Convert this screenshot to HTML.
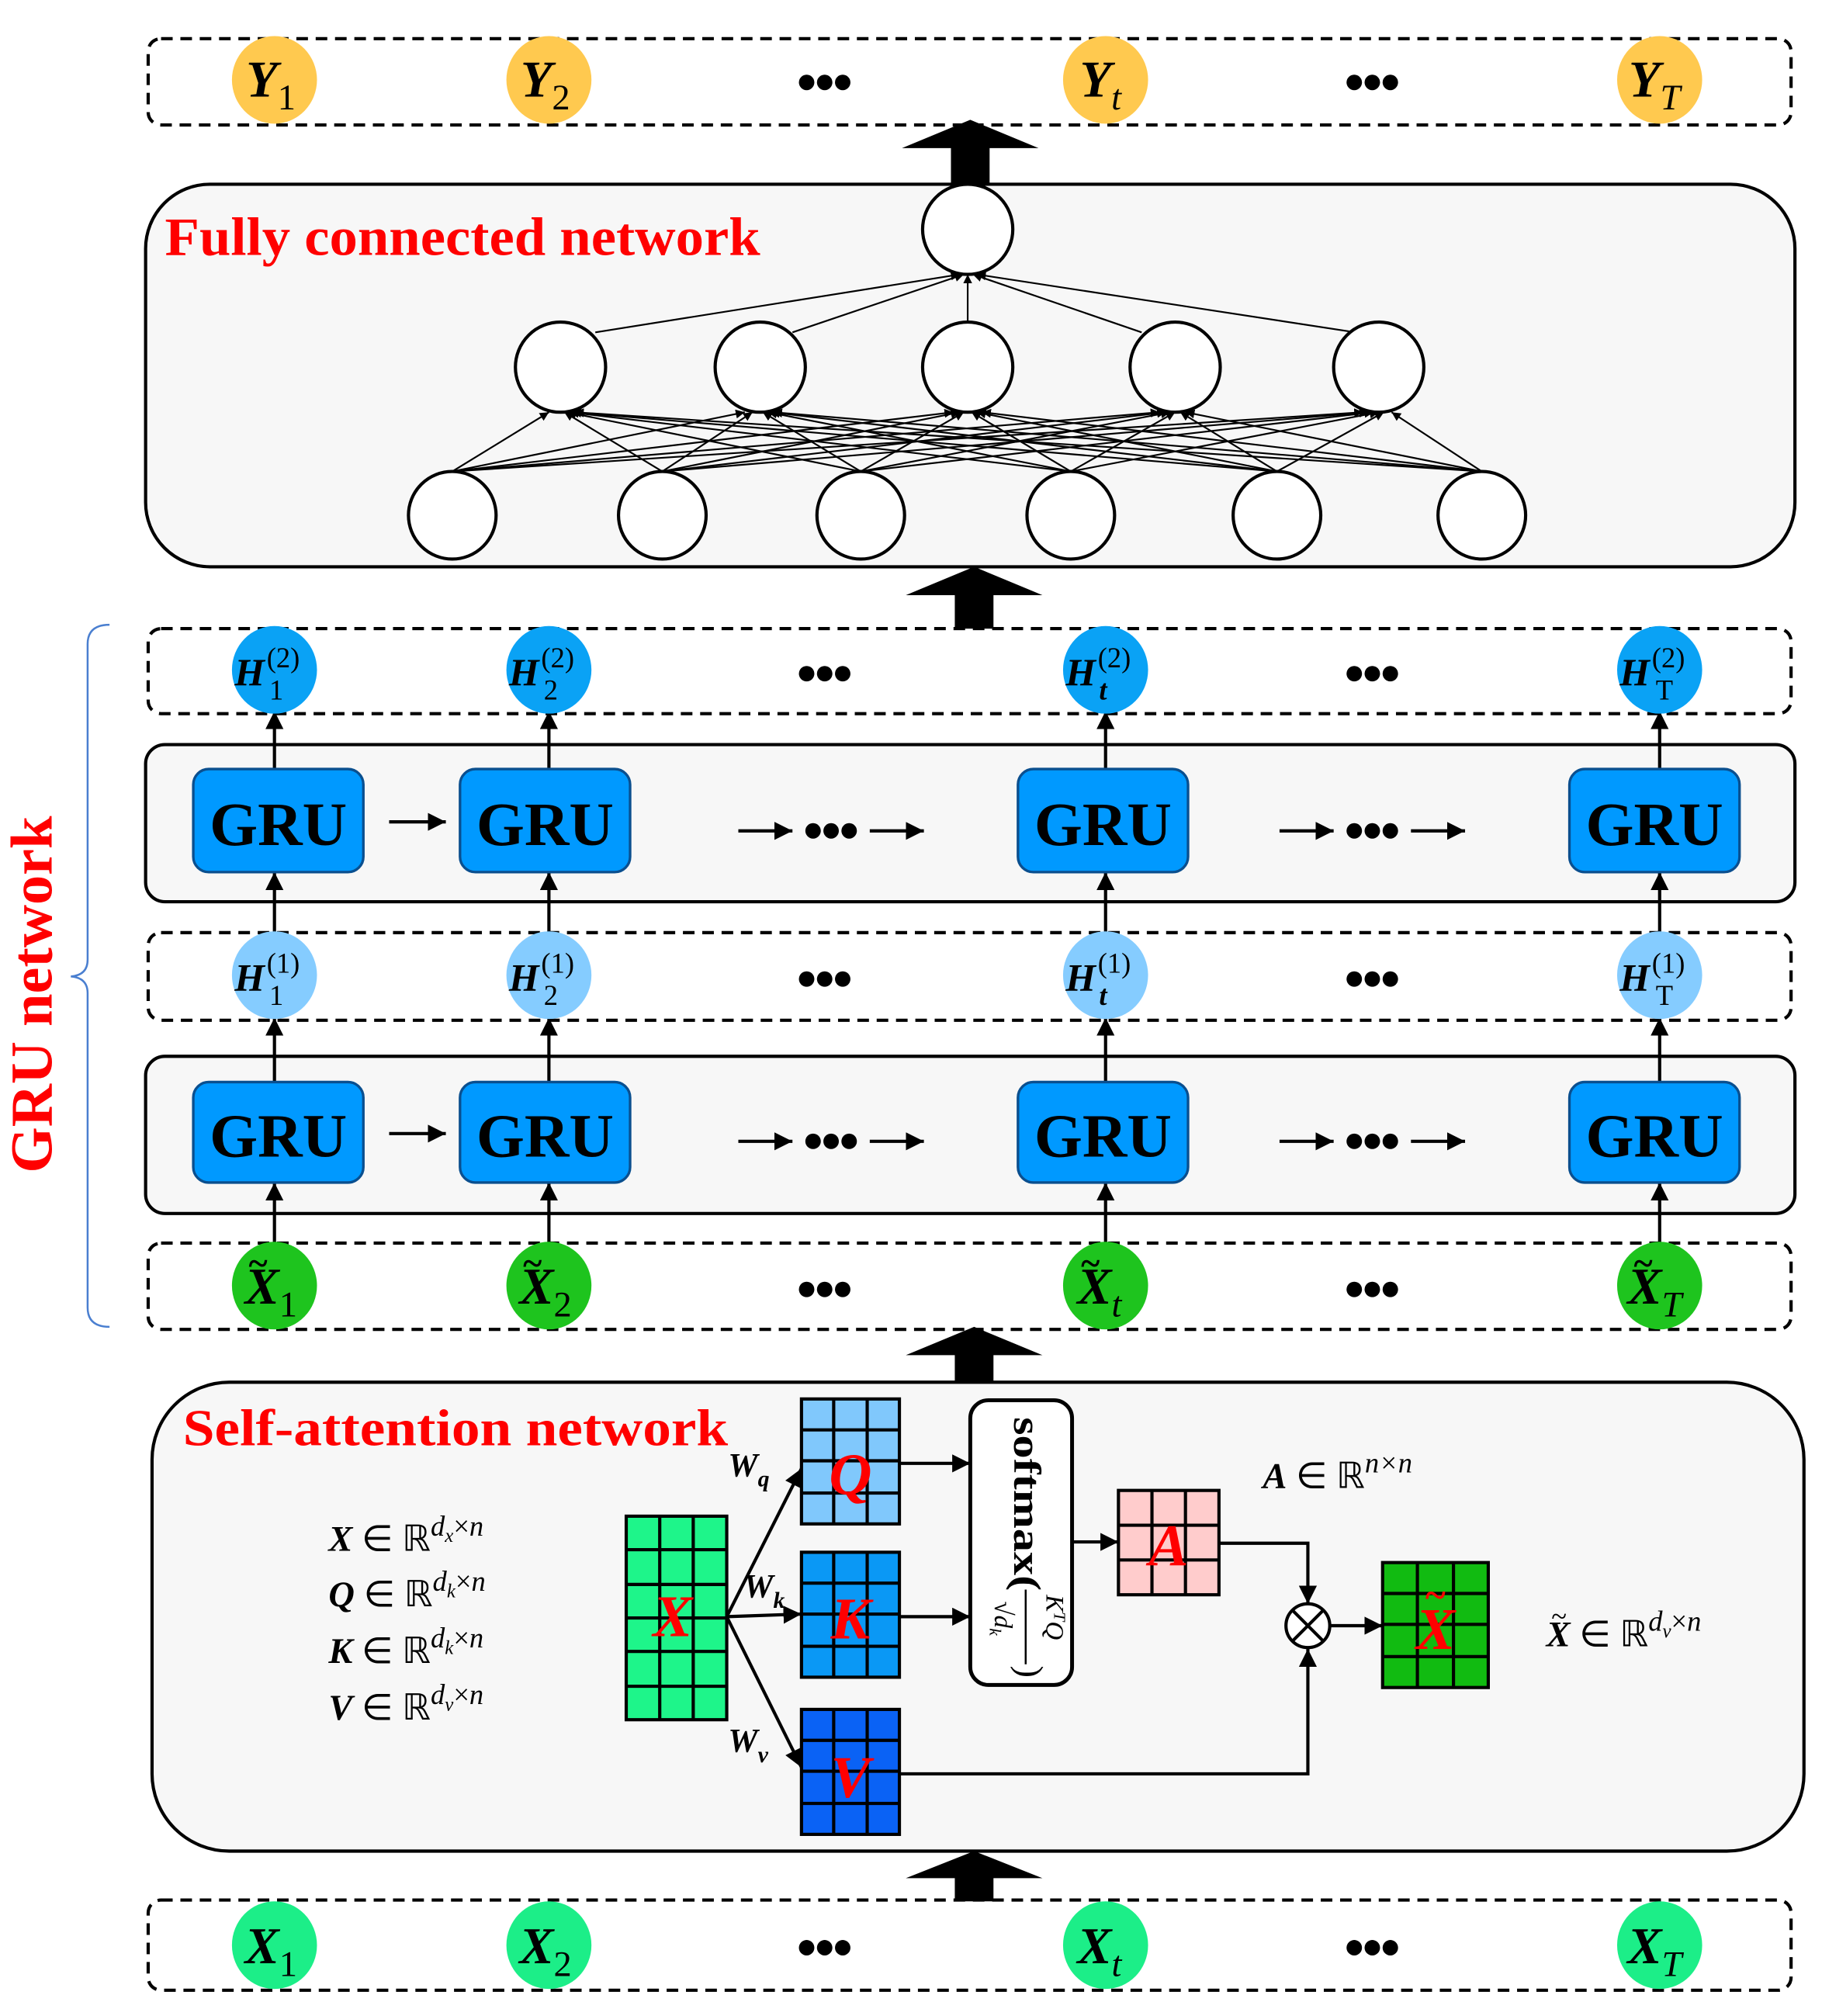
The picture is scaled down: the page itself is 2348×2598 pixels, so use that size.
<!DOCTYPE html>
<html><head><meta charset="utf-8"><style>html,body{margin:0;padding:0;background:#fff}svg{display:block}</style></head><body>
<svg width="2348" height="2598" viewBox="0 0 1414 1565" preserveAspectRatio="none" xmlns="http://www.w3.org/2000/svg" font-family="Liberation Serif, serif">
<defs>
<marker id="a" viewBox="0 0 10 10" refX="10" refY="5" markerWidth="7" markerHeight="7" markerUnits="userSpaceOnUse" orient="auto"><path d="M0,0L10,5L0,10z" fill="#000"/></marker>
<marker id="b" viewBox="0 0 10 10" refX="10" refY="5" markerWidth="14" markerHeight="14" markerUnits="userSpaceOnUse" orient="auto"><path d="M0,0L10,5L0,10z" fill="#000"/></marker>
<g id="d"><circle cx="626" cy="0" r="6"/><circle cx="640" cy="0" r="6"/><circle cx="654" cy="0" r="6"/></g>
</defs>
<g fill="none" stroke="#000" stroke-width="2.5" stroke-dasharray="9,6">
<rect x="115" y="30" width="1275" height="67" rx="10"/>
<rect x="115" y="488" width="1275" height="66" rx="10"/>
<rect x="115" y="724" width="1275" height="68" rx="10"/>
<rect x="115" y="965" width="1275" height="67" rx="10"/>
<rect x="115" y="1475" width="1275" height="70" rx="10"/>
</g>
<g fill="#000">
<path d="M700,115L753,93L806,115L768,115L768,142L738,142L738,115z"/>
<path d="M703,462L756,440L809,462L771,462L771,488L741,488L741,462z"/>
<path d="M703,1052L756,1030L809,1052L771,1052L771,1074L741,1074L741,1052z"/>
<path d="M703,1458L756,1437L809,1458L771,1458L771,1476L741,1476L741,1458z"/>
</g>
<rect x="113" y="143" width="1280" height="297" rx="50" fill="#f7f7f7" stroke="#000" stroke-width="2.5"/>
<text x="128" y="198" font-size="42" font-weight="bold" fill="#f00" textLength="462" lengthAdjust="spacingAndGlyphs">Fully connected network</text>
<g stroke="#000" stroke-width="1.3" marker-end="url(#a)">
<line x1="351" y1="366" x2="426" y2="320"/><line x1="351" y1="366" x2="578" y2="320"/><line x1="351" y1="366" x2="740" y2="320"/><line x1="351" y1="366" x2="900" y2="320"/><line x1="351" y1="366" x2="1058" y2="320"/>
<line x1="514" y1="366" x2="438" y2="320"/><line x1="514" y1="366" x2="584" y2="320"/><line x1="514" y1="366" x2="745" y2="320"/><line x1="514" y1="366" x2="905" y2="320"/><line x1="514" y1="366" x2="1062" y2="320"/>
<line x1="668" y1="366" x2="440" y2="320"/><line x1="668" y1="366" x2="592" y2="320"/><line x1="668" y1="366" x2="748" y2="320"/><line x1="668" y1="366" x2="908" y2="320"/><line x1="668" y1="366" x2="1066" y2="320"/>
<line x1="831" y1="366" x2="442" y2="320"/><line x1="831" y1="366" x2="596" y2="320"/><line x1="831" y1="366" x2="754" y2="320"/><line x1="831" y1="366" x2="912" y2="320"/><line x1="831" y1="366" x2="1070" y2="320"/>
<line x1="991" y1="366" x2="444" y2="320"/><line x1="991" y1="366" x2="598" y2="320"/><line x1="991" y1="366" x2="758" y2="320"/><line x1="991" y1="366" x2="916" y2="320"/><line x1="991" y1="366" x2="1074" y2="320"/>
<line x1="1150" y1="366" x2="446" y2="320"/><line x1="1150" y1="366" x2="600" y2="320"/><line x1="1150" y1="366" x2="762" y2="320"/><line x1="1150" y1="366" x2="920" y2="320"/><line x1="1150" y1="366" x2="1080" y2="320"/>
<line x1="462" y1="258" x2="745" y2="213"/><line x1="615" y1="258" x2="748" y2="213"/><line x1="751" y1="250" x2="751" y2="213"/><line x1="886" y1="258" x2="755" y2="213"/><line x1="1052" y1="258" x2="758" y2="213"/>
</g>
<g fill="#fff" stroke="#000" stroke-width="2.5">
<circle cx="751" cy="178" r="35"/>
<circle cx="435" cy="285" r="35"/><circle cx="590" cy="285" r="35"/><circle cx="751" cy="285" r="35"/><circle cx="912" cy="285" r="35"/><circle cx="1070" cy="285" r="35"/>
<circle cx="351" cy="400" r="34"/><circle cx="514" cy="400" r="34"/><circle cx="668" cy="400" r="34"/><circle cx="831" cy="400" r="34"/><circle cx="991" cy="400" r="34"/><circle cx="1150" cy="400" r="34"/>
</g>
<g fill="#ffc94f"><ellipse cx="213" cy="62" rx="33" ry="34"/><ellipse cx="426" cy="62" rx="33" ry="34"/><ellipse cx="858" cy="62" rx="33" ry="34"/><ellipse cx="1288" cy="62" rx="33" ry="34"/></g>
<g font-size="40" font-style="italic" font-weight="bold" fill="#000">
<text x="191" y="75">Y<tspan font-size="28" font-weight="normal" font-style="normal" dy="10">1</tspan></text>
<text x="404" y="75">Y<tspan font-size="28" font-weight="normal" font-style="normal" dy="10">2</tspan></text>
<text x="838" y="75">Y<tspan font-size="28" font-weight="normal" dy="10">t</tspan></text>
<text x="1264" y="75">Y<tspan font-size="28" font-weight="normal" dy="10">T</tspan></text>
</g>
<g fill="#000">
<use href="#d" y="64"/><use href="#d" x="425" y="64"/>
<use href="#d" y="523"/><use href="#d" x="425" y="523"/>
<use href="#d" y="760"/><use href="#d" x="425" y="760"/>
<use href="#d" y="1001"/><use href="#d" x="425" y="1001"/>
<use href="#d" y="1512"/><use href="#d" x="425" y="1512"/>
</g>
<path d="M85,485 Q68,485 68,500 L68,745 Q68,757 55,758 Q68,759 68,771 L68,1015 Q68,1030 85,1030" fill="none" stroke="#4a7fd0" stroke-width="1.5"/>
<text transform="translate(40,772) rotate(-90)" font-size="46" font-weight="bold" fill="#f00" text-anchor="middle">GRU network</text>
<rect x="113" y="578" width="1280" height="122" rx="15" fill="#f7f7f7" stroke="#000" stroke-width="2.5"/>
<rect x="113" y="820" width="1280" height="122" rx="15" fill="#f7f7f7" stroke="#000" stroke-width="2.5"/>
<g stroke="#000" stroke-width="2.5" marker-end="url(#b)">
<line x1="213" y1="597" x2="213" y2="552"/><line x1="426" y1="597" x2="426" y2="552"/><line x1="858" y1="597" x2="858" y2="552"/><line x1="1288" y1="597" x2="1288" y2="552"/>
<line x1="213" y1="724" x2="213" y2="677"/><line x1="426" y1="724" x2="426" y2="677"/><line x1="858" y1="724" x2="858" y2="677"/><line x1="1288" y1="724" x2="1288" y2="677"/>
<line x1="213" y1="840" x2="213" y2="790"/><line x1="426" y1="840" x2="426" y2="790"/><line x1="858" y1="840" x2="858" y2="790"/><line x1="1288" y1="840" x2="1288" y2="790"/>
<line x1="213" y1="966" x2="213" y2="918"/><line x1="426" y1="966" x2="426" y2="918"/><line x1="858" y1="966" x2="858" y2="918"/><line x1="1288" y1="966" x2="1288" y2="918"/>
<line x1="302" y1="638" x2="346" y2="638"/><line x1="573" y1="645" x2="615" y2="645"/><line x1="675" y1="645" x2="717" y2="645"/><line x1="993" y1="645" x2="1035" y2="645"/><line x1="1095" y1="645" x2="1137" y2="645"/>
<line x1="302" y1="880" x2="346" y2="880"/><line x1="573" y1="886" x2="615" y2="886"/><line x1="675" y1="886" x2="717" y2="886"/><line x1="993" y1="886" x2="1035" y2="886"/><line x1="1095" y1="886" x2="1137" y2="886"/>
</g>
<g fill="#000"><use href="#d" x="5" y="645"/><use href="#d" x="425" y="645"/><use href="#d" x="5" y="886"/><use href="#d" x="425" y="886"/></g>
<g fill="#0099ff" stroke="#0a4f8f" stroke-width="2">
<rect x="150" y="597" width="132" height="80" rx="12"/><rect x="357" y="597" width="132" height="80" rx="12"/><rect x="790" y="597" width="132" height="80" rx="12"/><rect x="1218" y="597" width="132" height="80" rx="12"/>
<rect x="150" y="840" width="132" height="78" rx="12"/><rect x="357" y="840" width="132" height="78" rx="12"/><rect x="790" y="840" width="132" height="78" rx="12"/><rect x="1218" y="840" width="132" height="78" rx="12"/>
</g>
<g font-size="48" font-weight="bold" fill="#000" text-anchor="middle">
<text x="216" y="656">GRU</text><text x="423" y="656">GRU</text><text x="856" y="656">GRU</text><text x="1284" y="656">GRU</text>
<text x="216" y="898">GRU</text><text x="423" y="898">GRU</text><text x="856" y="898">GRU</text><text x="1284" y="898">GRU</text>
</g>
<g fill="#0aa2f5"><ellipse cx="213" cy="520" rx="33" ry="34"/><ellipse cx="426" cy="520" rx="33" ry="34"/><ellipse cx="858" cy="520" rx="33" ry="34"/><ellipse cx="1288" cy="520" rx="33" ry="34"/></g>
<g fill="#85ccff"><ellipse cx="213" cy="757" rx="33" ry="34"/><ellipse cx="426" cy="757" rx="33" ry="34"/><ellipse cx="858" cy="757" rx="33" ry="34"/><ellipse cx="1288" cy="757" rx="33" ry="34"/></g>
<g font-size="30" font-style="italic" font-weight="bold" fill="#000">
<text x="182" y="532">H</text><text x="395" y="532">H</text><text x="827" y="532">H</text><text x="1257" y="532">H</text>
<text x="182" y="769">H</text><text x="395" y="769">H</text><text x="827" y="769">H</text><text x="1257" y="769">H</text>
</g>
<g font-size="22" fill="#000">
<text x="207" y="518">(2)</text><text x="420" y="518">(2)</text><text x="852" y="518">(2)</text><text x="1282" y="518">(2)</text>
<text x="207" y="755">(1)</text><text x="420" y="755">(1)</text><text x="852" y="755">(1)</text><text x="1282" y="755">(1)</text>
<text x="209" y="543">1</text><text x="422" y="543">2</text><text x="853" y="543" font-style="italic" font-weight="bold">t</text><text x="1285" y="543">T</text>
<text x="209" y="780">1</text><text x="422" y="780">2</text><text x="853" y="780" font-style="italic" font-weight="bold">t</text><text x="1285" y="780">T</text>
</g>
<g fill="#1ec41e"><ellipse cx="213" cy="998" rx="33" ry="34"/><ellipse cx="426" cy="998" rx="33" ry="34"/><ellipse cx="858" cy="998" rx="33" ry="34"/><ellipse cx="1288" cy="998" rx="33" ry="34"/></g>
<g font-size="40" font-style="italic" font-weight="bold" fill="#000">
<text x="190" y="1012">X<tspan font-size="28" font-weight="normal" font-style="normal" dy="10">1</tspan></text>
<text x="403" y="1012">X<tspan font-size="28" font-weight="normal" font-style="normal" dy="10">2</tspan></text>
<text x="836" y="1012">X<tspan font-size="28" font-weight="normal" dy="10">t</tspan></text>
<text x="1263" y="1012">X<tspan font-size="28" font-weight="normal" dy="10">T</tspan></text>
<text x="193" y="990" font-size="28" font-style="normal">~</text><text x="406" y="990" font-size="28" font-style="normal">~</text><text x="839" y="990" font-size="28" font-style="normal">~</text><text x="1268" y="990" font-size="28" font-style="normal">~</text>
</g>
<g fill="#1cee88"><ellipse cx="213" cy="1510" rx="33" ry="34"/><ellipse cx="426" cy="1510" rx="33" ry="34"/><ellipse cx="858" cy="1510" rx="33" ry="34"/><ellipse cx="1288" cy="1510" rx="33" ry="34"/></g>
<g font-size="40" font-style="italic" font-weight="bold" fill="#000">
<text x="190" y="1524">X<tspan font-size="28" font-weight="normal" font-style="normal" dy="10">1</tspan></text>
<text x="403" y="1524">X<tspan font-size="28" font-weight="normal" font-style="normal" dy="10">2</tspan></text>
<text x="836" y="1524">X<tspan font-size="28" font-weight="normal" dy="10">t</tspan></text>
<text x="1263" y="1524">X<tspan font-size="28" font-weight="normal" dy="10">T</tspan></text>
</g>
<rect x="118" y="1073" width="1282" height="364" rx="60" fill="#f7f7f7" stroke="#000" stroke-width="2.5"/>
<text x="142" y="1122" font-size="40" font-weight="bold" fill="#f00" textLength="423" lengthAdjust="spacingAndGlyphs">Self-attention network</text>
<g font-size="28" fill="#000">
<text x="255" y="1204"><tspan font-style="italic" font-weight="bold">X</tspan> ∈ ℝ<tspan font-size="22" font-style="italic" dy="-12">d</tspan><tspan font-size="15" font-style="italic" dy="5">x</tspan><tspan font-size="22" dy="-5">×</tspan><tspan font-size="22" font-style="italic">n</tspan></text>
<text x="255" y="1247"><tspan font-style="italic" font-weight="bold">Q</tspan> ∈ ℝ<tspan font-size="22" font-style="italic" dy="-12">d</tspan><tspan font-size="15" font-style="italic" dy="5">k</tspan><tspan font-size="22" dy="-5">×</tspan><tspan font-size="22" font-style="italic">n</tspan></text>
<text x="255" y="1291"><tspan font-style="italic" font-weight="bold">K</tspan> ∈ ℝ<tspan font-size="22" font-style="italic" dy="-12">d</tspan><tspan font-size="15" font-style="italic" dy="5">k</tspan><tspan font-size="22" dy="-5">×</tspan><tspan font-size="22" font-style="italic">n</tspan></text>
<text x="255" y="1335"><tspan font-style="italic" font-weight="bold">V</tspan> ∈ ℝ<tspan font-size="22" font-style="italic" dy="-12">d</tspan><tspan font-size="15" font-style="italic" dy="5">v</tspan><tspan font-size="22" dy="-5">×</tspan><tspan font-size="22" font-style="italic">n</tspan></text>
<text x="980" y="1155"><tspan font-style="italic" font-weight="bold">A</tspan> ∈ ℝ<tspan font-size="22" font-style="italic" dy="-12">n×n</tspan></text>
<text x="1200" y="1278"><tspan font-style="italic" font-weight="bold">X</tspan> ∈ ℝ<tspan font-size="22" font-style="italic" dy="-12">d</tspan><tspan font-size="15" font-style="italic" dy="5">v</tspan><tspan font-size="22" dy="-5">×</tspan><tspan font-size="22" font-style="italic">n</tspan></text>
<text x="1204" y="1262" font-size="22">~</text>
</g>
<g stroke="#000" stroke-width="2.5" fill="none" marker-end="url(#b)">
<line x1="564" y1="1255" x2="622" y2="1140"/>
<line x1="564" y1="1255" x2="622" y2="1253"/>
<line x1="564" y1="1255" x2="622" y2="1372"/>
<line x1="698" y1="1136" x2="753" y2="1136"/>
<line x1="698" y1="1255" x2="753" y2="1255"/>
<line x1="832" y1="1197" x2="868" y2="1197"/>
<polyline points="946,1198 1015,1198 1015,1245"/>
<polyline points="698,1377 1015,1377 1015,1280"/>
<line x1="1032" y1="1262" x2="1073" y2="1262"/>
</g>
<circle cx="1015" cy="1262" r="17" fill="#fff" stroke="#000" stroke-width="2.5"/>
<path d="M1003,1250L1027,1274M1027,1250L1003,1274" stroke="#000" stroke-width="2.5"/>
<g font-size="26" font-style="italic" font-weight="bold" fill="#000">
<text x="565" y="1146">W<tspan font-size="18" dy="8">q</tspan></text>
<text x="577" y="1240">W<tspan font-size="18" dy="8">k</tspan></text>
<text x="565" y="1360">W<tspan font-size="18" dy="8">v</tspan></text>
</g>
<g stroke="#000" stroke-width="2.5">
<rect x="486" y="1177" width="78" height="158" fill="#1ef58a"/>
<path d="M512,1177V1335M538,1177V1335M486,1203H564M486,1230H564M486,1256H564M486,1282H564M486,1309H564"/>
<rect x="622" y="1086" width="76" height="97" fill="#80c8fc"/>
<path d="M647,1086V1183M673,1086V1183M622,1110H698M622,1134H698M622,1159H698"/>
<rect x="622" y="1205" width="76" height="97" fill="#0a98f5"/>
<path d="M647,1205V1302M673,1205V1302M622,1229H698M622,1253H698M622,1278H698"/>
<rect x="622" y="1327" width="76" height="97" fill="#0a62f5"/>
<path d="M647,1327V1424M673,1327V1424M622,1351H698M622,1375H698M622,1400H698"/>
<rect x="868" y="1157" width="78" height="81" fill="#ffcccc"/>
<path d="M894,1157V1238M920,1157V1238M868,1184H946M868,1211H946"/>
<rect x="1073" y="1213" width="82" height="97" fill="#11bb11"/>
<path d="M1100,1213V1310M1128,1213V1310M1073,1237H1155M1073,1261H1155M1073,1286H1155"/>
</g>
<g font-size="46" font-style="italic" font-weight="bold" fill="#f00" text-anchor="middle">
<text x="522" y="1270">X</text><text x="660" y="1160">Q</text><text x="660" y="1272">K</text><text x="660" y="1395">V</text><text x="907" y="1215">A</text><text x="1114" y="1280">X</text>
<text x="1114" y="1248" font-size="30" font-style="normal">~</text>
</g>
<rect x="753" y="1087" width="79" height="221" rx="14" fill="#fff" stroke="#000" stroke-width="3"/>
<text transform="translate(787,1100) rotate(90)" font-size="30" font-weight="bold" fill="#000" textLength="135" lengthAdjust="spacingAndGlyphs">softmax(</text>
<text transform="translate(812,1238) rotate(90)" font-size="20" font-style="italic" fill="#000">K<tspan font-size="13" dy="-6">T</tspan><tspan dy="6">Q</tspan></text>
<line x1="796" y1="1234" x2="796" y2="1292" stroke="#000" stroke-width="1.5"/>
<text transform="translate(772,1243) rotate(90)" font-size="20" font-style="italic" fill="#000">√d<tspan font-size="13" dy="4">k</tspan></text>
<text transform="translate(790,1293) rotate(90)" font-size="28" fill="#000">)</text>
</svg>
</body></html>
